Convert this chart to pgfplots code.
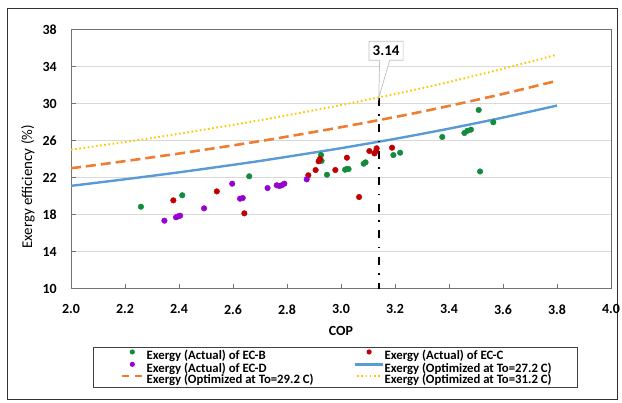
\documentclass[border=0pt]{standalone}
\usepackage{pgfplots}
\pgfplotsset{compat=1.18}
\usepackage{fontspec}
\setmainfont{Carlito}
\usetikzlibrary{shapes.callouts}
\definecolor{cgreen}{RGB}{17,140,60}
\definecolor{cred}{RGB}{192,0,0}
\definecolor{cpurple}{RGB}{150,0,210}
\definecolor{cblue}{RGB}{91,155,213}
\definecolor{corange}{RGB}{237,125,49}
\definecolor{cyellow}{RGB}{255,200,0}
\begin{document}
\begin{tikzpicture}[x=1bp,y=1bp]
\path (0,0) rectangle (622,402);
\draw[black!80, line width=0.8bp] (7,3) rectangle (617,394);
\begin{axis}[
  at={(71bp,113.5bp)}, anchor=south west,
  scale only axis, width=540bp, height=259bp,
  xmin=2, xmax=4, ymin=10, ymax=38,
  xtick={2.0,2.2,2.4,2.6,2.8,3.0,3.2,3.4,3.6,3.8,4.0},
  ytick={10,14,18,22,26,30,34,38},
  xticklabel style={/pgf/number format/fixed, /pgf/number format/fixed zerofill, /pgf/number format/precision=1},
  /pgf/number format/assume math mode=true,
  tick label style={font=\bfseries\fontsize{14}{16}\selectfont},
  xticklabel style={anchor=north, inner sep=0pt, yshift=-16bp},
  yticklabel style={anchor=east, inner sep=0pt, xshift=-14bp},
  tick align=inside, xtick pos=bottom, ytick pos=left,
  major tick length=5bp,
  tick style={black!55, line width=0.8bp},
  axis line style={black!55, line width=0.8bp},
  ymajorgrids, grid style={black!15, line width=0.8bp},
  xlabel={\bfseries COP},
  xlabel style={at={(axis description cs:0.5,-0.164)}, anchor=center, font=\fontsize{14}{16}\selectfont},
  ylabel={Exergy efficiency (\%)},
  ylabel style={at={(axis description cs:-0.0796,0.392)}, anchor=center, font=\fontsize{15}{17}\selectfont},
  legend columns=2,
  legend cell align=left,
  legend style={at={(axis description cs:0.0407,-0.2259)}, anchor=north west,
    draw=black!75, line width=0.7bp, font=\bfseries\fontsize{12.8}{14}\selectfont,
    inner xsep=25bp, inner ysep=2bp, row sep=0bp,
    nodes={inner sep=0.3bp},
    /tikz/every even column/.append style={column sep=40bp}},
]
\addplot[only marks, mark=*, mark size=2.8bp, color=cgreen,
  legend image code/.code={\path[draw=none] (0,0) -- (28bp,0); \fill[cgreen, draw=none] (14bp,4bp) circle (2.6bp);}]
coordinates {(2.259,18.84) (2.412,20.08) (2.660,22.13) (2.926,24.43) (2.928,23.80) (2.948,22.30)
 (3.015,22.84) (3.021,22.92) (3.028,22.92) (3.084,23.49) (3.091,23.64) (3.194,24.43) (3.219,24.68)
 (3.375,26.38) (3.457,26.81) (3.468,27.05) (3.481,27.17) (3.510,29.30) (3.515,22.65) (3.564,27.97)};
\addlegendentry{Exergy (Actual) of EC-B}
\addplot[only marks, mark=*, mark size=2.8bp, color=cred,
  legend image code/.code={\path[draw=none] (0,0) -- (28bp,0); \fill[cred, draw=none] (14bp,4bp) circle (2.6bp);}]
coordinates {(2.379,19.53) (2.540,20.50) (2.642,18.13) (2.879,22.24) (2.906,22.81) (2.917,23.75)
 (2.922,24.00) (2.979,22.81) (3.022,24.14) (3.067,19.89) (3.105,24.86) (3.124,24.60) (3.130,24.86)
 (3.132,25.16) (3.189,25.22)};
\addlegendentry{Exergy (Actual) of EC-C}
\addplot[only marks, mark=*, mark size=2.8bp, color=cpurple,
  legend image code/.code={\path[draw=none] (0,0) -- (28bp,0); \fill[cpurple, draw=none] (14bp,4bp) circle (2.6bp);}]
coordinates {(2.346,17.33) (2.389,17.70) (2.397,17.80) (2.404,17.87) (2.493,18.67) (2.597,21.33)
 (2.626,19.71) (2.636,19.78) (2.728,20.86) (2.762,21.16) (2.772,21.08) (2.780,21.16) (2.790,21.33)
 (2.873,21.80)};
\addlegendentry{Exergy (Actual) of EC-D}
\addplot[cblue, line width=2.4bp, smooth,
  legend image code/.code={\draw[cblue, line width=2.4bp] (0,4bp) -- (28bp,4bp);}]
coordinates {(2.0,21.10) (2.1,21.45) (2.2,21.81) (2.3,22.18) (2.4,22.56) (2.5,22.96) (2.6,23.37)
 (2.7,23.79) (2.8,24.24) (2.9,24.70) (3.0,25.17) (3.1,25.67) (3.2,26.18) (3.3,26.72) (3.4,27.28)
 (3.5,27.87) (3.6,28.48) (3.7,29.12) (3.8,29.78)};
\addlegendentry{Exergy (Optimized at To=27.2 C)}
\addplot[corange, line width=2.6bp, smooth, dash pattern=on 10bp off 5bp,
  legend image code/.code={\path[draw=none] (0,0) -- (28bp,0); \draw[corange, line width=2.6bp, dash pattern=on 7bp off 6bp] (4bp,4bp) -- (24bp,4bp);}]
coordinates {(2.0,23.00) (2.1,23.38) (2.2,23.77) (2.3,24.18) (2.4,24.59) (2.5,25.03) (2.6,25.47)
 (2.7,25.93) (2.8,26.42) (2.9,26.92) (3.0,27.44) (3.1,27.98) (3.2,28.54) (3.3,29.12) (3.4,29.74)
 (3.5,30.38) (3.6,31.04) (3.7,31.74) (3.8,32.46)};
\addlegendentry{Exergy (Optimized at To=29.2 C)}
\addplot[cyellow, line width=2bp, smooth, dash pattern=on 1.6bp off 2.6bp,
  legend image code/.code={\path[draw=none] (0,0) -- (28bp,0); \draw[cyellow, line width=2bp, dash pattern=on 1.6bp off 2.6bp] (2bp,4bp) -- (26bp,4bp);}]
coordinates {(2.0,25.00) (2.1,25.42) (2.2,25.84) (2.3,26.28) (2.4,26.73) (2.5,27.21) (2.6,27.69)
 (2.7,28.19) (2.8,28.72) (2.9,29.27) (3.0,29.83) (3.1,30.42) (3.2,31.02) (3.3,31.66) (3.4,32.33)
 (3.5,33.03) (3.6,33.75) (3.7,34.51) (3.8,35.29)};
\addlegendentry{Exergy (Optimized at To=31.2 C)}
\addplot[black, line width=2bp, dash pattern=on 8bp off 8.5bp on 1.5bp off 8.5bp, forget plot]
coordinates {(3.14,30.6) (3.14,10)};
\draw[black!80, line width=0.9bp] (rel axis cs:1,0) -- (rel axis cs:1,1);
\node[rectangle callout, draw=black!25, fill=white, line width=0.7bp,
  font=\bfseries\fontsize{15}{17}\selectfont, minimum width=34bp, minimum height=19bp, inner sep=1bp,
  callout absolute pointer={(axis cs:3.14,30.6)}, callout pointer width=10bp]
  at (axis cs:3.167,35.7) {3.14};
\end{axis}
\end{tikzpicture}
\end{document}
